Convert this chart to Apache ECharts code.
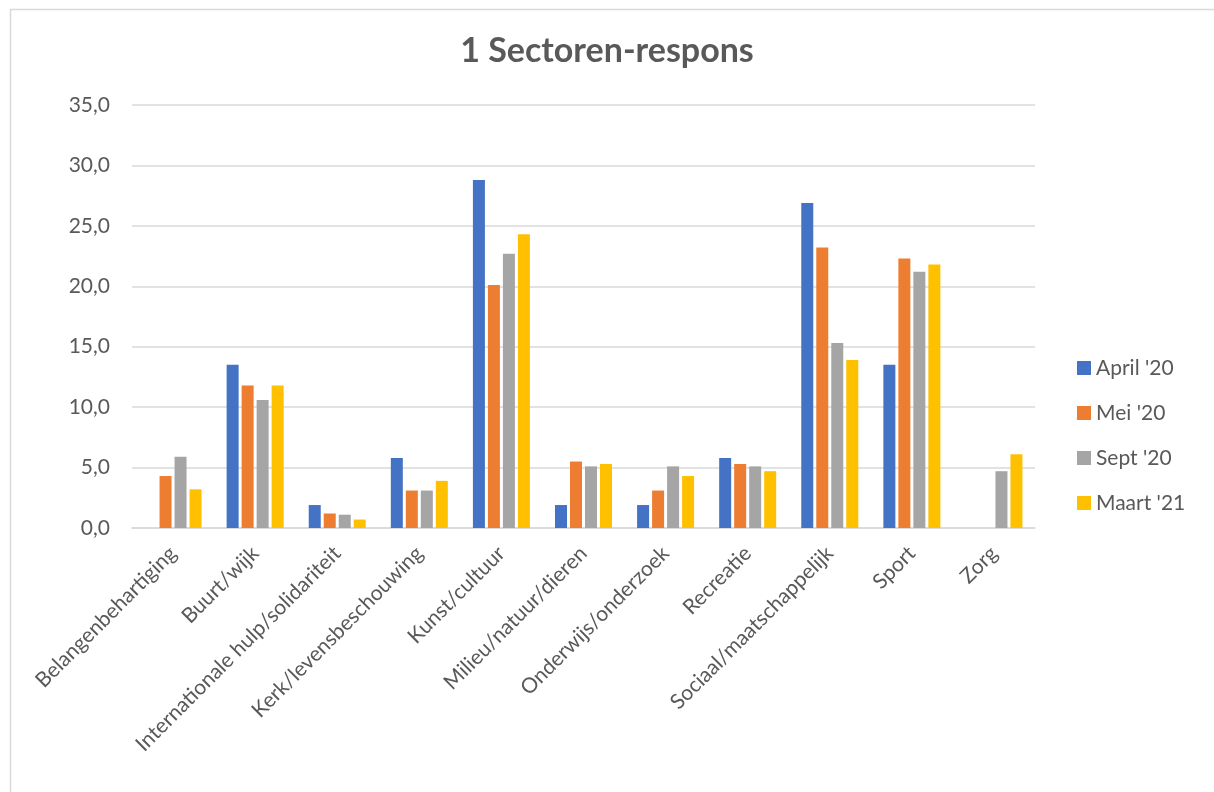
<!DOCTYPE html>
<html>
<head>
<meta charset="utf-8">
<script src="https://cdn.jsdelivr.net/npm/echarts@6/dist/echarts.min.js"></script>
<style>html,body{margin:0;padding:0;background:#fff;}#c{width:1214px;height:792px;}</style>
</head>
<body>
<div id="c"></div>
<script>
const categories = ['Belangenbehartiging','Buurt/wijk','Internationale hulp/solidariteit','Kerk/levensbeschouwing','Kunst/cultuur','Milieu/natuur/dieren','Onderwijs/onderzoek','Recreatie','Sociaal/maatschappelijk','Sport','Zorg'];
const seriesNames = ["April '20","Mei '20","Sept '20","Maart '21"];
const april20 = [null,13.5,1.9,5.8,28.8,1.9,1.9,5.8,26.9,13.5,null];
const mei20   = [4.3,11.8,1.2,3.1,20.1,5.5,3.1,5.3,23.2,22.3,null];
const sept20  = [5.9,10.6,1.1,3.1,22.7,5.1,5.1,5.1,15.3,21.2,4.7];
const maart21 = [3.2,11.8,0.7,3.9,24.3,5.3,4.3,4.7,13.9,21.8,6.1];
const colors = ['#4472C4','#ED7D31','#A5A5A5','#FFC000'];
const FONT = 'Lato, "Open Sans", sans-serif';
const dataSets = [april20, mei20, sept20, maart21];

const chart = echarts.init(document.getElementById('c'));
chart.setOption({
  animation: false,
  color: colors,
  title: {
    text: '1 Sectoren-respons',
    left: 'center',
    top: 29,
    textStyle: {fontFamily: FONT, fontSize: 34, fontWeight: 'bold', color: '#595959'}
  },
  graphic: [{
    type: 'rect', left: 8, top: 7,
    shape: {width: 1220, height: 800},
    style: {fill: 'none', stroke: '#d9d9d9', lineWidth: 1.5}
  }],
  legend: {
    orient: 'vertical',
    left: 1072,
    top: 352,
    itemWidth: 14, itemHeight: 14,
    itemGap: 23,
    icon: 'rect',
    textStyle: {fontFamily: FONT, fontSize: 21, lineHeight: 22, color: '#595959'},
    data: seriesNames
  },
  grid: {left: 132, right: 179, top: 105, bottom: 264},
  xAxis: {
    type: 'category',
    data: categories,
    axisLine: {lineStyle: {color: '#d9d9d9', width: 1.5}},
    axisTick: {show: false},
    axisLabel: {rotate: 45, margin: 22, interval: 0, fontFamily: FONT, fontSize: 21, color: '#595959'}
  },
  yAxis: {
    type: 'value',
    min: 0, max: 35, interval: 5,
    axisLine: {show: false},
    axisTick: {show: false},
    splitLine: {lineStyle: {color: '#d9d9d9', width: 1.5}},
    axisLabel: {margin: 22, fontFamily: FONT, fontSize: 21, color: '#595959',
      formatter: v => v.toFixed(1).replace('.', ',')}
  },
  series: seriesNames.map((n, i) => ({
    name: n, type: 'bar', data: dataSets[i],
    barWidth: 12, barGap: '25%',
    itemStyle: {color: colors[i]}
  }))
});
</script>
</body>
</html>
